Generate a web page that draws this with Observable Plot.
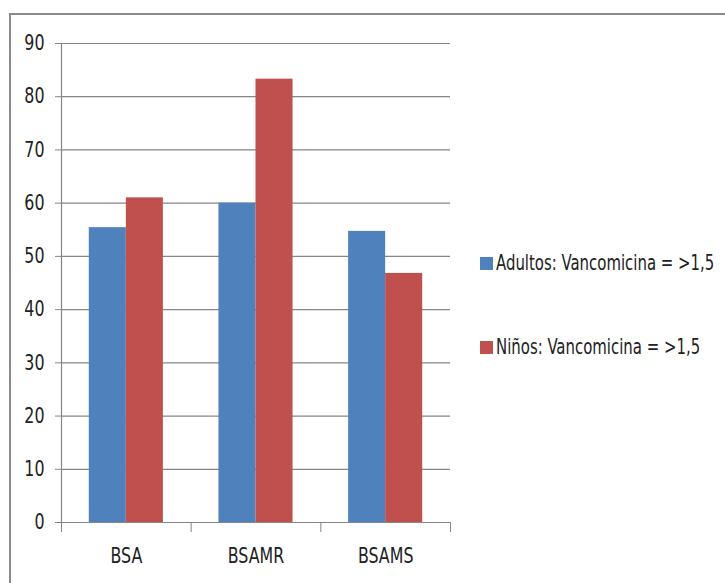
<!DOCTYPE html>
<html><head><meta charset="utf-8">
<script src="https://cdn.jsdelivr.net/npm/d3@7"></script>
<script src="https://cdn.jsdelivr.net/npm/@observablehq/plot@0.6"></script>
<style>
body{margin:0;background:#fff;font-family:"DejaVu Sans Condensed","DejaVu Sans",sans-serif;}
#wrap{position:relative;width:725px;height:583px;overflow:hidden;background:#fff}
#border{position:absolute;left:9px;top:13px;width:900px;height:900px;border:2px solid #8a8a8a;box-sizing:border-box}
#chart{position:absolute;left:0;top:0}
#legend{position:absolute;left:480px;top:0;color:#222;font-size:21px}
.item{position:absolute;left:0;white-space:nowrap;display:flex;align-items:center}
.sw{width:13px;height:13px;margin-right:3px;flex:none}
.txt{display:inline-block;transform:scaleX(0.79);transform-origin:left center}
</style></head>
<body><div id="wrap"><div id="border"></div><div id="chart"></div><div id="legend"></div></div>
<script>
const categories = ["BSA", "BSAMR", "BSAMS"];
const series = ["Adultos: Vancomicina = >1,5", "Niños: Vancomicina = >1,5"];
const adultos = [55.4, 60.0, 54.7];
const ninos = [61.0, 83.3, 46.8];
const yTicks = [0, 10, 20, 30, 40, 50, 60, 70, 80, 90];
const colors = ["#4F81BD", "#C0504D"];
const gapWidth = 1.5;
const condense = 0.84;

const values = [adultos, ninos];
const rows = [];
categories.forEach((c, i) => {
  series.forEach((s, j) => {
    const w = 1 / (series.length + gapWidth);
    const x1 = i + (gapWidth / 2 + j) * w;
    rows.push({cat: c, series: s, value: values[j][i], x1, x2: x1 + w});
  });
});

const grid = "#868686";
const chart = Plot.plot({
  width: 725,
  height: 583,
  marginLeft: 61,
  marginRight: 275,
  marginTop: 43,
  marginBottom: 61,
  style: {fontFamily: '"DejaVu Sans Condensed","DejaVu Sans",sans-serif', fontSize: "21px", color: "#222", background: "transparent"},
  x: {domain: [0, categories.length], axis: null},
  y: {domain: [0, 90], axis: null},
  color: {domain: series, range: colors},
  marks: [
    Plot.ruleY(yTicks, {stroke: grid, strokeWidth: 1.2}),
    Plot.rectY(rows, {x1: "x1", x2: "x2", y1: 0, y2: "value", fill: "series"}),
    Plot.ruleX([0], {stroke: grid, strokeWidth: 1.2}),
    Plot.ruleY([0], {stroke: grid, strokeWidth: 1.2}),
    Plot.axisY({ticks: yTicks, tickSize: 6, tickPadding: 11, stroke: grid, fontSize: 21, label: null}),
    Plot.axisX({ticks: d3.range(categories.length + 1), tickSize: 10, tickFormat: () => "", stroke: grid, label: null}),
    Plot.axisX({ticks: categories.map((c, i) => i + 0.5), tickSize: 0, tickPadding: 26, tickFormat: d => categories[Math.floor(d)], fontSize: 21, label: null})
  ]
});
// condense the glyphs horizontally around each label's anchor (Calibri-like narrow text)
chart.querySelectorAll("text").forEach(t => {
  const tr = t.getAttribute("transform") || "";
  t.setAttribute("transform", (tr + ` scale(${condense},1)`).trim());
  if (t.hasAttribute("x") && !tr) {
    const x = +t.getAttribute("x");
    t.setAttribute("transform", `translate(${x * (1 - condense)},0) scale(${condense},1)`);
  }
});
document.getElementById("chart").appendChild(chart);

const legend = document.getElementById("legend");
const legendY = [263, 347];
series.forEach((s, j) => {
  const it = document.createElement("div");
  it.className = "item";
  it.style.top = (legendY[j] - 13) + "px";
  it.style.height = "26px";
  it.innerHTML = `<span class="sw" style="background:${colors[j]}"></span><span class="txt">${s}</span>`;
  legend.appendChild(it);
});
</script>
</body></html>
